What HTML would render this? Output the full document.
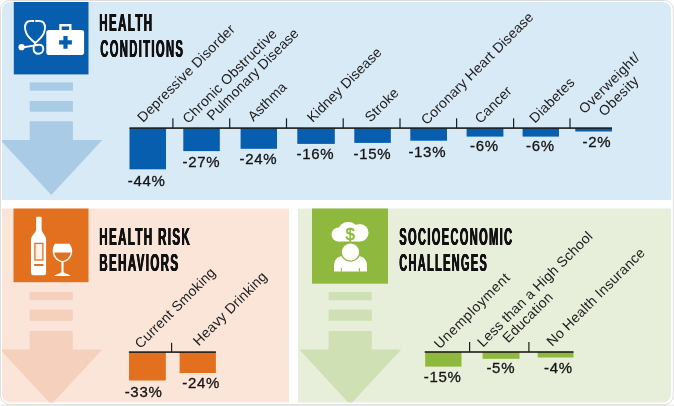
<!DOCTYPE html>
<html lang="en"><head><meta charset="utf-8"><title>Health infographic</title>
<style>
html,body{margin:0;padding:0;background:#fff;}
body{width:674px;height:406px;position:relative;overflow:hidden;font-family:"Liberation Sans", sans-serif;}
svg{position:absolute;left:0;top:0;display:block;}
svg text{font-family:"Liberation Sans", sans-serif;}
.lab{font-size:14px;fill:#202020;letter-spacing:0.1px;}
.val{font-size:15px;fill:#141414;stroke:#141414;stroke-width:0.3px;letter-spacing:0.7px;}
.ttl{position:absolute;font-weight:bold;font-size:24px;line-height:26px;height:26px;color:#111;white-space:nowrap;
 transform-origin:0 0;margin-top:-3.9px;
 text-shadow:0.45px 0 0 #111,0.9px 0 0 #111,1.3px 0 0 #111;}
</style></head><body>
<svg width="674" height="406" viewBox="0 0 674 406">
<defs>
<clipPath id="cb"><path d="M2,10 a8,8 0 0 1 8,-8 H663 a8,8 0 0 1 8,8 V200 H2 Z"/></clipPath>
<clipPath id="co"><path d="M2,208.5 H289 V402.5 H10 a8,8 0 0 1 -8,-8 Z"/></clipPath>
<clipPath id="cg"><path d="M298,208.5 H671 V394.5 a8,8 0 0 1 -8,8 H298 Z"/></clipPath>
</defs>
<rect x="0" y="404.6" width="674" height="1.4" fill="#ececec"/><rect x="0.5" y="0.5" width="672.8" height="404" rx="9" ry="9" fill="#fff" stroke="#dedede" stroke-width="1"/>
<path d="M2,10 a8,8 0 0 1 8,-8 H663 a8,8 0 0 1 8,8 V200 H2 Z" fill="#d9eaf7"/>
<path d="M2,208.5 H289 V402.5 H10 a8,8 0 0 1 -8,-8 Z" fill="#fbe5d9"/>
<path d="M298,208.5 H671 V394.5 a8,8 0 0 1 -8,8 H298 Z" fill="#e7eed9"/>
<rect x="29.699999999999996" y="82.4" width="43.2" height="8.20" fill="#a9cbe6"/>
<rect x="29.699999999999996" y="101" width="43.2" height="10.70" fill="#a9cbe6"/>
<polygon points="29.699999999999996,121.3 72.9,121.3 72.9,140 102.3,140 51.3,195 0.29999999999999716,140 29.699999999999996,140" fill="#a9cbe6" clip-path="url(#cb)"/>
<rect x="29.6" y="292" width="43.2" height="8.20" fill="#f5d0bc"/>
<rect x="29.6" y="309.6" width="43.2" height="11.20" fill="#f5d0bc"/>
<polygon points="29.6,331 72.80000000000001,331 72.80000000000001,349.6 102.2,349.6 51.2,404.6 0.20000000000000284,349.6 29.6,349.6" fill="#f5d0bc" clip-path="url(#co)"/>
<rect x="328.59999999999997" y="292" width="43.2" height="8.20" fill="#cfe1b4"/>
<rect x="328.59999999999997" y="309.6" width="43.2" height="11.20" fill="#cfe1b4"/>
<polygon points="328.59999999999997,331 371.8,331 371.8,349.6 401.2,349.6 350.2,404.6 299.2,349.6 328.59999999999997,349.6" fill="#cfe1b4" clip-path="url(#cg)"/>
<rect x="13.8" y="2" width="74.7" height="72.4" fill="#075dae"/>
<rect x="13.5" y="208.5" width="75" height="73.7" fill="#e2701e"/>
<rect x="312" y="208.5" width="76" height="75.2" fill="#8fb93e"/>
<rect x="129.5" y="128.1" width="36.5" height="41.20000000000002" fill="#075dae"/>
<rect x="183.3" y="128.1" width="36.5" height="23.0" fill="#075dae"/>
<rect x="240.6" y="128.1" width="36.400000000000006" height="20.700000000000017" fill="#075dae"/>
<rect x="297.3" y="128.1" width="37.5" height="15.800000000000011" fill="#075dae"/>
<rect x="354.3" y="128.1" width="36.5" height="14.800000000000011" fill="#075dae"/>
<rect x="410.3" y="128.1" width="36.69999999999999" height="12.599999999999994" fill="#075dae"/>
<rect x="466.6" y="128.1" width="36.799999999999955" height="8.5" fill="#075dae"/>
<rect x="522.6" y="128.1" width="36.39999999999998" height="8.5" fill="#075dae"/>
<rect x="575.3" y="128.1" width="36.700000000000045" height="3.4000000000000057" fill="#075dae"/>
<rect x="129.5" y="127.3" width="482.5" height="1.6" fill="#1d1d1b"/>
<rect x="172.3" y="118.3" width="1.2" height="9.799999999999997" fill="#1d1d1b"/>
<rect x="229.1" y="118.3" width="1.2" height="9.799999999999997" fill="#1d1d1b"/>
<rect x="285.9" y="118.3" width="1.2" height="9.799999999999997" fill="#1d1d1b"/>
<rect x="342.59999999999997" y="118.3" width="1.2" height="9.799999999999997" fill="#1d1d1b"/>
<rect x="399.4" y="118.3" width="1.2" height="9.799999999999997" fill="#1d1d1b"/>
<rect x="456.0" y="118.3" width="1.2" height="9.799999999999997" fill="#1d1d1b"/>
<rect x="513.0" y="118.3" width="1.2" height="9.799999999999997" fill="#1d1d1b"/>
<rect x="569.4" y="118.3" width="1.2" height="9.799999999999997" fill="#1d1d1b"/>
<text class="val" x="146.7" y="185.5" text-anchor="middle">-44%</text>
<text class="val" x="201.5" y="166.5" text-anchor="middle">-27%</text>
<text class="val" x="258.5" y="164.4" text-anchor="middle">-24%</text>
<text class="val" x="315.4" y="158.9" text-anchor="middle">-16%</text>
<text class="val" x="372.5" y="158.6" text-anchor="middle">-15%</text>
<text class="val" x="427.3" y="156.7" text-anchor="middle">-13%</text>
<text class="val" x="484.4" y="151.3" text-anchor="middle">-6%</text>
<text class="val" x="540.5" y="151.3" text-anchor="middle">-6%</text>
<text class="val" x="597" y="146.7" text-anchor="middle">-2%</text>
<rect x="129.0" y="352.1" width="36.80000000000001" height="28.399999999999977" fill="#e2701e"/>
<rect x="179.6" y="352.1" width="36.30000000000001" height="20.899999999999977" fill="#e2701e"/>
<rect x="128.9" y="351.3" width="87.0" height="1.6" fill="#1d1d1b"/>
<rect x="171.0" y="342.8" width="1.2" height="9.300000000000011" fill="#1d1d1b"/>
<text class="val" x="143.6" y="396.5" text-anchor="middle">-33%</text>
<text class="val" x="201.2" y="387.7" text-anchor="middle">-24%</text>
<rect x="425.2" y="352.0" width="36.30000000000001" height="14.600000000000023" fill="#8fb93e"/>
<rect x="482.6" y="352.0" width="36.89999999999998" height="6.800000000000011" fill="#8fb93e"/>
<rect x="537.7" y="352.0" width="35.799999999999955" height="5.5" fill="#8fb93e"/>
<rect x="424.7" y="351.2" width="148.8" height="1.6" fill="#1d1d1b"/>
<rect x="469.0" y="342" width="1.2" height="10.0" fill="#1d1d1b"/>
<rect x="528.3" y="342" width="1.2" height="10.0" fill="#1d1d1b"/>
<text class="val" x="442.7" y="381.5" text-anchor="middle">-15%</text>
<text class="val" x="500.8" y="372.7" text-anchor="middle">-5%</text>
<text class="val" x="558.5" y="372.7" text-anchor="middle">-4%</text>
<text class="lab" transform="translate(143.1,122.9) rotate(-45)" style="letter-spacing:0.24px">Depressive Disorder</text>
<text class="lab" transform="translate(188.3,124.2) rotate(-45)" style="letter-spacing:0.2px">Chronic Obstructive</text>
<text class="lab" transform="translate(212.6,121.2) rotate(-45)">Pulmonary Disease</text>
<text class="lab" transform="translate(253.6,121.9) rotate(-45)">Asthma</text>
<text class="lab" transform="translate(312.7,123.0) rotate(-45)">Kidney Disease</text>
<text class="lab" transform="translate(370.6,122.8) rotate(-45)">Stroke</text>
<text class="lab" transform="translate(426.7,125.6) rotate(-45)">Coronary Heart Disease</text>
<text class="lab" transform="translate(480.4,124.2) rotate(-45)">Cancer</text>
<text class="lab" transform="translate(535.1,123.7) rotate(-45)" style="letter-spacing:0.25px">Diabetes</text>
<text class="lab" transform="translate(584.5,114.5) rotate(-45)" style="letter-spacing:0.45px">Overweight/</text>
<text class="lab" transform="translate(604.3,117.0) rotate(-45)" style="letter-spacing:0.4px">Obesity</text>
<text class="lab" transform="translate(140.6,349.2) rotate(-45)" style="letter-spacing:0.15px">Current Smoking</text>
<text class="lab" transform="translate(198.8,346.4) rotate(-45)" style="letter-spacing:0.2px">Heavy Drinking</text>
<text class="lab" transform="translate(439.8,349.6) rotate(-45)" style="letter-spacing:0.55px">Unemployment</text>
<text class="lab" transform="translate(482.9,347.7) rotate(-45)" style="letter-spacing:0.2px">Less than a High School</text>
<text class="lab" transform="translate(508.3,343.4) rotate(-45)" style="letter-spacing:0.25px">Education</text>
<text class="lab" transform="translate(552.3,347.1) rotate(-45)" style="letter-spacing:0.25px">No Health Insurance</text>
<!-- stethoscope + first-aid kit -->
<g fill="none" stroke="#fff" stroke-width="1.9" stroke-linecap="round" stroke-linejoin="round">
<path d="M33.4,21 C30,20.7 27.5,21.1 26.3,22.9 C24.6,25.4 24.9,29.6 26.3,33.1 C27.8,36.8 31,39.6 35.2,42.9 C39.3,39.6 42.2,36.8 43.8,33.1 C45.2,29.6 45.4,25.4 43.7,22.9 C42.5,21.1 39.5,20.7 36,21"/>
<path d="M35.2,42.9 C33.9,44.9 33.5,46.9 33.6,49.1 C33.8,51.9 35.9,53.7 38.4,53.7 C41.1,53.7 43.3,51.8 43.3,49.1 C43.3,46.5 41.4,44.7 38.7,44.7 C36.4,44.7 35.4,45.3 33.9,45.6 L23.5,47.2"/>
</g>
<circle cx="21.6" cy="47.2" r="3.1" fill="#fff"/>
<rect x="60.5" y="25.2" width="9.8" height="7" fill="none" stroke="#fff" stroke-width="2.4"/>
<rect x="46.3" y="29.9" width="37.8" height="25.1" rx="2.8" ry="2.8" fill="#fff"/>
<path d="M63.4,36.1 h4.2 v4.2 h4.3 v4.2 h-4.3 v4.3 h-4.2 v-4.3 h-4.3 v-4.2 h4.3 Z" fill="#075dae"/>
<!-- bottle + glass -->
<path d="M36.1,217.6 a0.9,0.9 0 0 1 0.9,-0.9 h3.7 a0.9,0.9 0 0 1 0.9,0.9 V229.6 C41.8,233 46.1,235.5 46.1,240 V273 a2.3,2.3 0 0 1 -2.3,2.3 H33.3 a2.3,2.3 0 0 1 -2.3,-2.3 V240 C31,235.5 35.9,233 36.1,229.6 Z" fill="#fff"/>
<rect x="34.9" y="243.4" width="8" height="16.6" fill="#fdf1e8" stroke="#e2701e" stroke-width="1.3"/>
<rect x="34.2" y="264" width="9.2" height="2" fill="#e2701e"/>
<path d="M54.9,243.8 H69.5 C71.2,246.3 72.4,248.8 72.2,251.8 C71.8,257.5 67.5,261.8 62.5,262.4 C57.4,261.8 53.1,257.5 52.7,251.8 C52.5,248.8 53.3,246.3 54.9,243.8 Z" fill="#fff"/>
<path d="M54.3,252.4 H70.7 C70.1,257 66.8,260.4 62.5,261 C58.2,260.4 54.9,257 54.3,252.4 Z" fill="#e2701e"/>
<path d="M61.4,262 h2.2 L63.5,271.5 C64,273.2 67,274 70,275.2 V275.9 H54.8 V275.2 C58,274 61,273.2 61.5,271.5 Z" fill="#fff"/>
<!-- cloud + person -->
<g fill="#fff">
<circle cx="338.5" cy="234.5" r="6.95"/>
<ellipse cx="348.3" cy="230.4" rx="10" ry="8.5"/>
<circle cx="359.8" cy="232.75" r="8.75"/>
<rect x="338.5" y="232" width="21.3" height="9.5"/>
</g>
<text x="350.3" y="239.6" text-anchor="middle" font-size="16.2" fill="#8fb93e" stroke="#8fb93e" stroke-width="0.6" font-family="Liberation Sans, sans-serif">$</text>
<rect x="349.7" y="239" width="1.3" height="5" fill="#8fb93e"/>
<path d="M334,271.5 V266 C334,260 337.5,256.2 342,256.2 H359 C363.5,256.2 367,260 367,266 V271.5 Z" fill="#fff"/>
<rect x="340.8" y="268" width="1.1" height="3.6" fill="#8fb93e"/>
<rect x="358.8" y="268" width="1.1" height="3.6" fill="#8fb93e"/>
<circle cx="350.5" cy="252" r="9.2" fill="#fff" stroke="#8fb93e" stroke-width="1.2"/>

</svg>
<div class="ttl" style="left:98.80px;top:13.90px;transform:scaleX(0.4784);letter-spacing:2.93px">HEALTH</div>
<div class="ttl" style="left:99.90px;top:39.40px;transform:scaleX(0.4645);letter-spacing:3.01px">CONDITIONS</div>
<div class="ttl" style="left:98.70px;top:228.30px;transform:scaleX(0.4791);letter-spacing:2.92px">HEALTH RISK</div>
<div class="ttl" style="left:98.80px;top:254.20px;transform:scaleX(0.4797);letter-spacing:2.92px">BEHAVIORS</div>
<div class="ttl" style="left:398.60px;top:227.60px;transform:scaleX(0.4584);letter-spacing:3.05px">SOCIOECONOMIC</div>
<div class="ttl" style="left:398.60px;top:253.80px;transform:scaleX(0.4528);letter-spacing:3.09px">CHALLENGES</div>
</body></html>
